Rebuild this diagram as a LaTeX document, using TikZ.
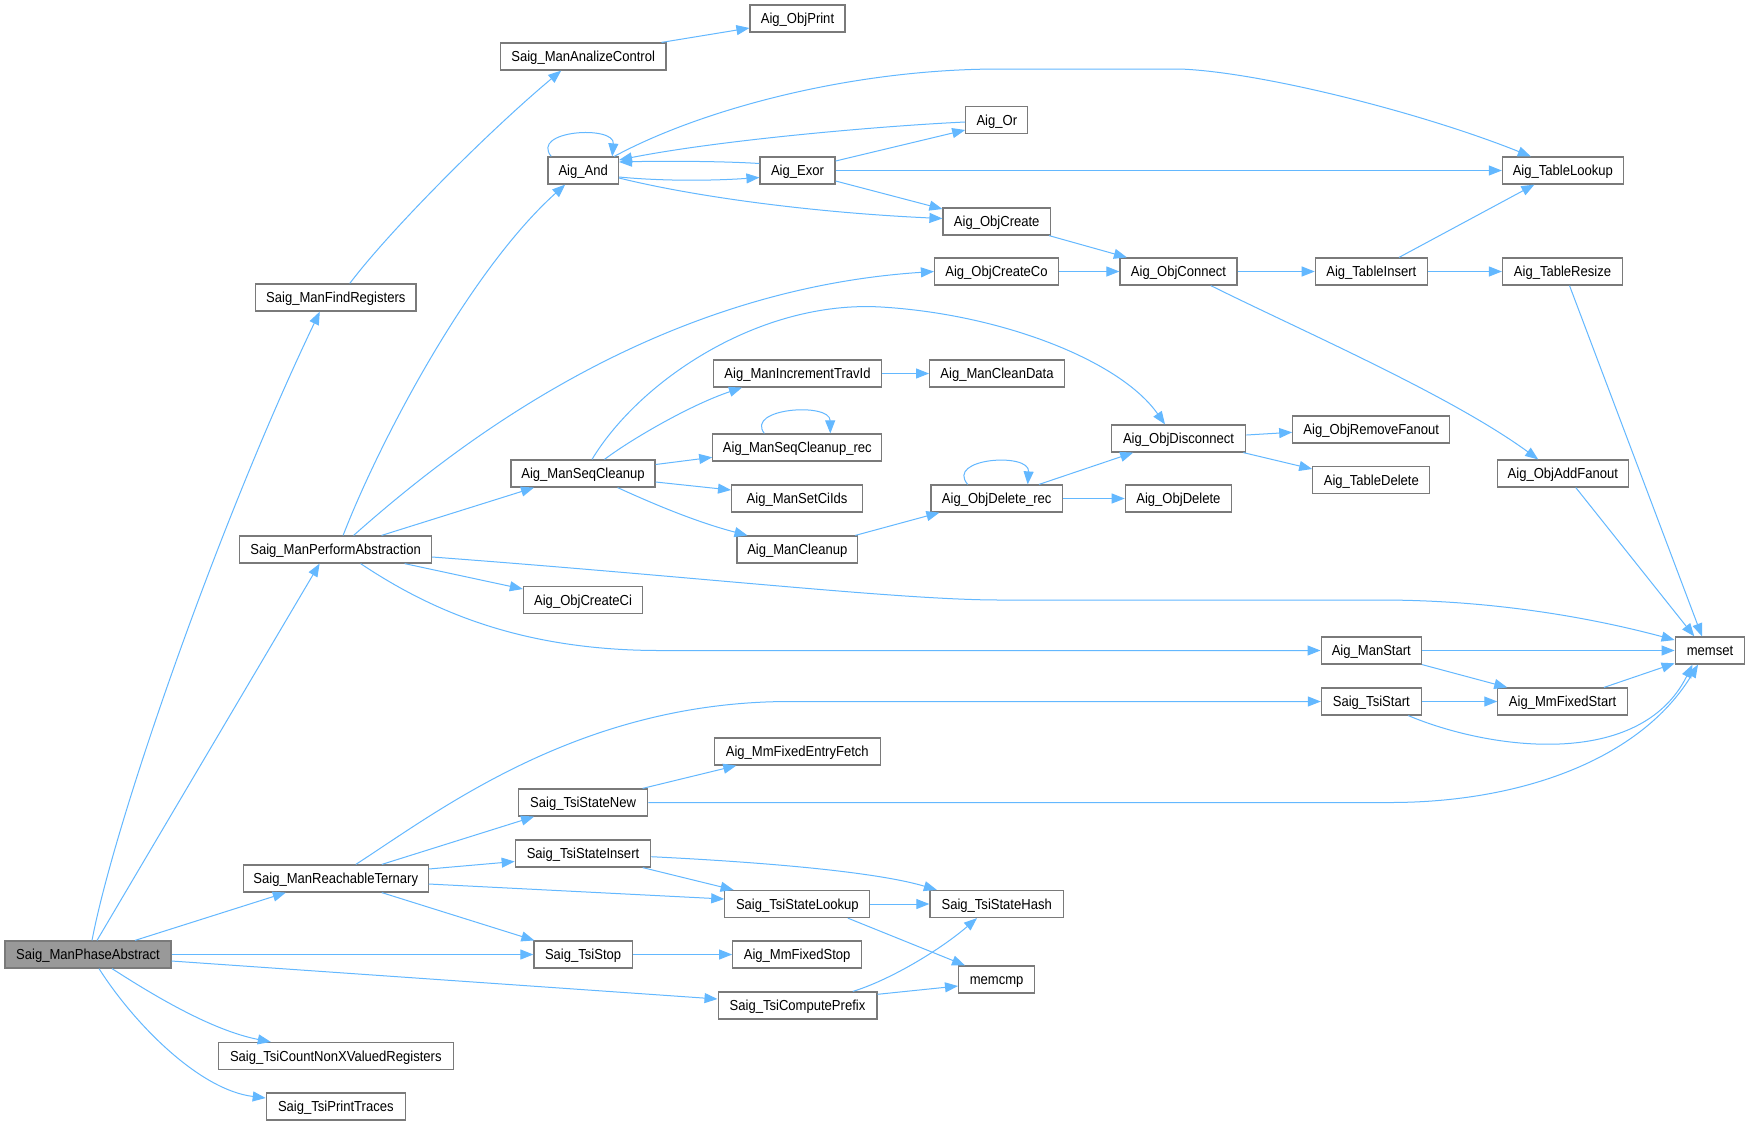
\documentclass[tikz,border=0pt]{standalone}
\usepackage{fontspec}
\setmainfont{Liberation Sans}[FakeStretch=0.9]
\usetikzlibrary{arrows.meta}
\definecolor{edgec}{HTML}{63B8FF}
\definecolor{boxc}{HTML}{7A7A7A}
\definecolor{rootfill}{HTML}{999999}
\begin{document}
\begin{tikzpicture}[x=1pt,y=-1pt,
  fn/.style={draw=boxc, line width=1.2pt, fill=white, rectangle, inner sep=0pt,
    minimum height=27pt, text height=10.4pt, text depth=0pt,
    font=\fontsize{14.5}{16}\selectfont, anchor=center},
  root/.style={fn, fill=rootfill},
  cg/.style={draw=edgec, line width=1pt, -{Triangle[length=13pt,width=10pt]}}]
\fill[white] (0,0) rectangle (1750,1125);
\useasboundingbox (0,0) rectangle (1750,1125);

% nodes
\node[root, minimum width=166pt] (PA) at (88,954.5) {Saig\_ManPhaseAbstract};
\node[fn, minimum width=160.5pt] (FR) at (335.8,297.5) {Saig\_ManFindRegisters};
\node[fn, minimum width=165.5pt] (SAC) at (583.2,56.5) {Saig\_ManAnalizeControl};
\node[fn, minimum width=95pt] (OP) at (797.5,18.5) {Aig\_ObjPrint};
\node[fn, minimum width=70.4pt] (AND) at (583.2,170.5) {Aig\_And};
\node[fn, minimum width=62pt] (OR) at (996.8,120) {Aig\_Or};
\node[fn, minimum width=75pt] (EXOR) at (797.5,170.5) {Aig\_Exor};
\node[fn, minimum width=120.8pt] (TL) at (1562.8,170.5) {Aig\_TableLookup};
\node[fn, minimum width=107.4pt] (OC) at (996.7,221.5) {Aig\_ObjCreate};
\node[fn, minimum width=124pt] (OCC) at (996.5,271.5) {Aig\_ObjCreateCo};
\node[fn, minimum width=117pt] (CONN) at (1178.5,271.5) {Aig\_ObjConnect};
\node[fn, minimum width=112pt] (TI) at (1371.3,271.5) {Aig\_TableInsert};
\node[fn, minimum width=120pt] (TR) at (1562.5,271.5) {Aig\_TableResize};
\node[fn, minimum width=168pt] (MIT) at (797.5,373.5) {Aig\_ManIncrementTravId};
\node[fn, minimum width=134.7pt] (MCD) at (997,373.5) {Aig\_ManCleanData};
\node[fn, minimum width=192pt] (SPA) at (335.6,549.5) {Saig\_ManPerformAbstraction};
\node[fn, minimum width=144pt] (SC) at (583,473.5) {Aig\_ManSeqCleanup};
\node[fn, minimum width=119.4pt] (OCI) at (583.1,600) {Aig\_ObjCreateCi};
\node[fn, minimum width=169pt] (SCR) at (797.3,447.5) {Aig\_ManSeqCleanup\_rec};
\node[fn, minimum width=131pt] (SCI) at (797.1,498.5) {Aig\_ManSetCiIds};
\node[fn, minimum width=120.8pt] (MC) at (797.3,549.5) {Aig\_ManCleanup};
\node[fn, minimum width=131.4pt] (ODR) at (996.7,498.5) {Aig\_ObjDelete\_rec};
\node[fn, minimum width=106.2pt] (OD) at (1178.4,498.5) {Aig\_ObjDelete};
\node[fn, minimum width=134.5pt] (ODIS) at (1178.5,438.5) {Aig\_ObjDisconnect};
\node[fn, minimum width=157pt] (ORF) at (1371.3,429.5) {Aig\_ObjRemoveFanout};
\node[fn, minimum width=117pt] (TD) at (1371.3,480) {Aig\_TableDelete};
\node[fn, minimum width=130.6pt] (OAF) at (1562.8,473.5) {Aig\_ObjAddFanout};
\node[fn, minimum width=69.6pt] (MEMSET) at (1710,650.5) {memset};
\node[fn, minimum width=100.4pt] (MS) at (1371.3,650.5) {Aig\_ManStart};
\node[fn, minimum width=99.8pt] (TS) at (1371.3,701.5) {Saig\_TsiStart};
\node[fn, minimum width=129.5pt] (MFS) at (1562.6,701.5) {Aig\_MmFixedStart};
\node[fn, minimum width=184.7pt] (RT) at (335.8,878.5) {Saig\_ManReachableTernary};
\node[fn, minimum width=129.2pt] (TSN) at (583.1,802.5) {Saig\_TsiStateNew};
\node[fn, minimum width=135.5pt] (TSI) at (583,853.5) {Saig\_TsiStateInsert};
\node[fn, minimum width=98.3pt] (TSTOP) at (583.1,954.5) {Saig\_TsiStop};
\node[fn, minimum width=235pt] (CNT) at (335.8,1056) {Saig\_TsiCountNonXValuedRegisters};
\node[fn, minimum width=139pt] (PT) at (335.8,1106.5) {Saig\_TsiPrintTraces};
\node[fn, minimum width=166pt] (MFEF) at (797.3,751.5) {Aig\_MmFixedEntryFetch};
\node[fn, minimum width=145pt] (TSL) at (797.3,904) {Saig\_TsiStateLookup};
\node[fn, minimum width=133.5pt] (TSH) at (996.7,904) {Saig\_TsiStateHash};
\node[fn, minimum width=128.7pt] (MFSTOP) at (797.1,954.5) {Aig\_MmFixedStop};
\node[fn, minimum width=76pt] (MEMCMP) at (996.6,979.5) {memcmp};
\node[fn, minimum width=158.8pt] (TCP) at (797.5,1005.5) {Saig\_TsiComputePrefix};

% edges from Saig_ManPhaseAbstract
\draw[cg] ([xshift=4pt]PA.north) .. controls (115,820) and (220,520) .. ([xshift=-16pt]FR.south);
\draw[cg] ([xshift=9pt]PA.north) -- ([xshift=-16pt]SPA.south);
\draw[cg] ([xshift=47pt]PA.north) -- ([xshift=-50pt]RT.south);
\draw[cg] (PA.east) -- (TSTOP.west);
\draw[cg] ([yshift=-6.5pt]PA.east) -- ([yshift=6.5pt]TCP.west);
\draw[cg] ([xshift=24pt]PA.south) .. controls (150,993) and (210,1030) .. ([xshift=-65pt]CNT.north);
\draw[cg] ([xshift=11pt]PA.south) .. controls (135,1025) and (200,1090) .. ([yshift=8.5pt]PT.west);

% Saig_ManFindRegisters
\draw[cg] ([xshift=14pt]FR.north) .. controls (390,230) and (490,130) .. ([xshift=-22pt]SAC.south);
\draw[cg] ([xshift=-5pt]SAC.north east) -- ([yshift=-9.5pt]OP.west);

% Saig_ManPerformAbstraction
\draw[cg] ([xshift=7.5pt]SPA.north) .. controls (380,440) and (470,270) .. ([xshift=-18pt]AND.south);
\draw[cg] ([xshift=18pt]SPA.north) .. controls (450,450) and (650,290) .. (OCC.west);
\draw[cg] ([xshift=46pt]SPA.north) -- ([xshift=-49pt]SC.south);
\draw[cg] ([xshift=69pt]SPA.south) -- ([yshift=11pt]OCI.west);
\draw[cg] ([yshift=-7.5pt]SPA.east) .. controls (700,577) and (900,600) .. (1000,600) -- (1380,600) .. controls (1500,600) and (1600,620) .. ([yshift=10.5pt]MEMSET.west);
\draw[cg] ([xshift=25pt]SPA.south) .. controls (430,610) and (520,650.5) .. (660,650.5) -- (MS.west);

% Aig_ManSeqCleanup
\draw[cg] ([xshift=21.5pt]SC.north) .. controls (630,440) and (690,405) .. ([xshift=-55.5pt]MIT.south);
\draw[cg] ([xshift=9pt]SC.north) .. controls (640,380) and (760,300) .. (881,307) .. controls (1000,314) and (1120,360) .. ([xshift=-13.5pt]ODIS.north);
\draw[cg] ([yshift=9pt]SC.east) -- ([yshift=-9.8pt]SCR.west);
\draw[cg] ([yshift=-8.5pt]SC.east) -- ([yshift=8.5pt]SCI.west);
\draw[cg] ([xshift=34.6pt]SC.south) .. controls (660,507) and (700,523) .. ([xshift=-49.8pt]MC.north);
\draw[cg] ([xshift=-33pt]SCR.north) .. controls (745,408) and (830,402) .. ([xshift=33pt]SCR.north);
\draw[cg] (MIT.east) -- (MCD.west);
\draw[cg] ([xshift=-3pt]MC.north east) -- ([xshift=-57.3pt]ODR.south);
\draw[cg] ([xshift=-29pt]ODR.north) .. controls (945,458) and (1030,452) .. ([xshift=31pt]ODR.north);
\draw[cg] ([xshift=42.3pt]ODR.north) -- ([xshift=-45.3pt]ODIS.south);
\draw[cg] (ODR.east) -- (OD.west);
\draw[cg] ([yshift=3.5pt]ODIS.east) -- ([yshift=-2.8pt]ORF.west);
\draw[cg] ([xshift=-3pt]ODIS.south east) -- ([yshift=11pt]TD.west);

% Aig_And / Aig_Exor / Aig_Or
\draw[cg] ([xshift=-32pt]AND.north) .. controls (530,130) and (615,125) .. ([xshift=29pt]AND.north);
\draw[cg] ([yshift=-6.5pt]AND.east) .. controls (660,181) and (710,181) .. ([yshift=-7pt]EXOR.west);
\draw[cg] ([yshift=7pt]EXOR.west) .. controls (720,161) and (660,161) .. ([yshift=8.5pt]AND.east);
\draw[cg] ([yshift=-2pt]OR.west) .. controls (880,126) and (720,140) .. ([yshift=10.5pt]AND.east);
\draw[cg] ([xshift=31pt]AND.north) .. controls (700,110) and (850,69) .. (1000,69) -- (1180,69) .. controls (1260,72) and (1420,112) .. ([xshift=-32pt]TL.north);
\draw[cg] ([yshift=9.5pt]EXOR.east) -- ([yshift=-10pt]OR.west);
\draw[cg] (EXOR.east) -- (TL.west);
\draw[cg] ([yshift=-10.5pt]EXOR.east) -- ([yshift=12.5pt]OC.west);
\draw[cg] ([yshift=-7.5pt]AND.east) .. controls (700,198) and (820,213) .. ([yshift=3pt]OC.west);
\draw[cg] ([xshift=-2pt]OC.south east) -- ([xshift=7.5pt]CONN.north west);
\draw[cg] (OCC.east) -- (CONN.west);
\draw[cg] (CONN.east) -- (TI.west);
\draw[cg] ([xshift=32.3pt]CONN.south) .. controls (1300,330) and (1450,395) .. ([xshift=-24.6pt]OAF.north);
\draw[cg] ([xshift=27.7pt]TI.north) -- ([xshift=-28.4pt]TL.south);
\draw[cg] (TI.east) -- (TR.west);
\draw[cg] ([xshift=7pt]TR.south) -- ([xshift=-8pt]MEMSET.north);
\draw[cg] ([xshift=13pt]OAF.south) -- ([xshift=-15.7pt]MEMSET.north);

% memset group
\draw[cg] (MS.east) -- (MEMSET.west);
\draw[cg] (MS.south east) -- ([xshift=10pt]MFS.north west);
\draw[cg] ([xshift=41.4pt]MFS.north) -- ([yshift=-12.8pt]MEMSET.west);
\draw[cg] (TS.east) -- (MFS.west);
\draw[cg] ([xshift=37pt]TS.south) .. controls (1490,750) and (1640,770) .. ([xshift=-17.5pt]MEMSET.south);
\draw[cg] (TSN.east) -- (1390,802.5) .. controls (1520,802.5) and (1640,760) .. ([xshift=-12pt]MEMSET.south);

% Saig_ManReachableTernary
\draw[cg] ([xshift=20pt]RT.north) .. controls (440,810) and (580,701.5) .. (790,701.5) -- (TS.west);
\draw[cg] ([xshift=46pt]RT.north) -- ([xshift=-49pt]TSN.south);
\draw[cg] ([yshift=9.5pt]RT.east) -- ([yshift=-8pt]TSI.west);
\draw[cg] ([yshift=-5.5pt]RT.east) -- ([yshift=5pt]TSL.west);
\draw[cg] ([xshift=46pt]RT.south) -- ([xshift=1pt]TSTOP.north west);
\draw[cg] ([xshift=-5.7pt]TSN.north east) -- ([xshift=-61pt]MFEF.south);
\draw[cg] ([yshift=-3.2pt]TSI.east) .. controls (740,861) and (870,870) .. ([xshift=7.5pt]TSH.north west);
\draw[cg] ([xshift=-8.6pt]TSI.south east) -- ([xshift=9.4pt]TSL.north west);
\draw[cg] (TSL.east) -- (TSH.west);
\draw[cg] ([xshift=-22.6pt]TSL.south east) -- ([xshift=7pt]MEMCMP.north west);
\draw[cg] (TSTOP.east) -- (MFSTOP.west);
\draw[cg] ([xshift=55.3pt]TCP.north) .. controls (890,980) and (940,950) .. ([xshift=-19.7pt]TSH.south);
\draw[cg] ([yshift=11.2pt]TCP.east) -- ([yshift=-6.5pt]MEMCMP.west);
\end{tikzpicture}
\end{document}
